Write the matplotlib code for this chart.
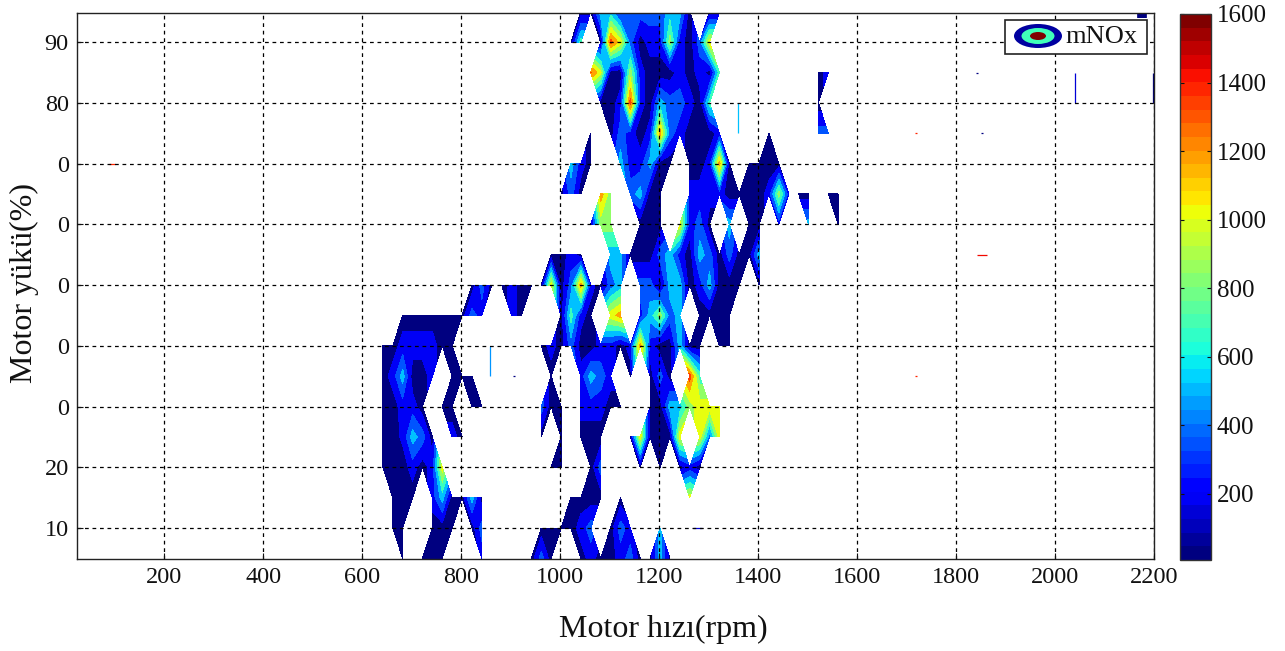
import numpy as np
import matplotlib
matplotlib.use("Agg")
import matplotlib.pyplot as plt
from matplotlib.cm import ScalarMappable
from matplotlib.colors import BoundaryNorm, Normalize
from matplotlib.patches import Ellipse, Rectangle

plt.rcParams['font.family'] = ['Liberation Serif', 'DejaVu Serif']

n = float('nan')
speed_rpm = [642 + 20 * j for j in range(47)]
load_pct = [5, 10, 15, 20, 25, 30, 35, 40, 45, 50, 55, 60, 65, 70, 75, 80, 85, 90, 95]
E10 = [n] * 10
E7 = [n] * 7

row_05 = [n,n,80,n,80,80,80,n,n,n, 240,n,n,n,n,80,400,80,n,n, 80,240,80,80,240,400,80,80,560,80] + E10 + E7
row_10 = [n,80,80,n,n,80,80,80,n,80, 400,n,n,n,n,n,80,80,80,80, 240,400,n,80,400,240,n,n,560,n] + E10 + E7
row_15 = [n,80,80,80,n,240,560,80,80,560, 80,n,n,n,n,n,n,n,n,80, 80,80,80,n,80,n,n,n,n,n, n,1040,n,n,n,n,n,n,n,n] + E7
row_20 = [80,80,80,240,80,240,1040,n,n,n, n,n,n,n,n,n,n,80,80,n, n,80,400,n,1040,n,80,n,80,n, 80,240,80,n,n,n,n,n,n,n] + E7
row_25 = [80,80,200,560,400,80,n,240,80,n, n,n,n,n,n,n,80,n,80,n, 80,80,80,n,n,80,1040,80,80,80, 1040,n,1040,400,1040,n,n,n,n,n] + E7
row_30 = [80,80,240,240,80,n,80,80,n,80, 80,n,n,n,n,n,400,80,80,n, 240,240,240,80,80,n,n,80,80,560, 560,880,1040,1040,1040,n,n,n,n,n] + E7
row_35 = [80,240,560,80,80,240,n,80,80,80, n,n,n,n,n,n,n,80,n,n, 240,560,400,240,n,80,n,80,400,80, n,1360,720,n,n,n,n,n,n,n] + E7
row_40 = [80,80,240,240,240,240,80,80,n,n, n,n,n,n,n,n,80,240,80,400, 80,80,240,240,80,240,1200,240,80,80, 560,80,80,n,80,80,n,n,n,n] + E7
row_45 = [n,n,80,80,80,80,80,80,80,400, 240,n,n,240,80,n,n,n,80,720, 240,80,n,1040,1200,n,240,560,880,400, 560,n,80,80,80,80,n,n,n,n] + E7
row_50 = [n,n,n,n,n,n,n,n,n,80, 400,80,80,240,80,80,80,1040,80,400, 1200,240,80,400,560,n,400,400,80,560, 560,80,240,560,80,80,80,n,80,n] + E7
row_55 = E10 + [n,n,n,n,n,n,n,80,80,240, 80,n,n,560,560,80,80,80,400,560, 240,80,560,400,80,400,80,80,560,n] + E7
row_60 = E10 + E10 + [n,80,880,880,n,n,80,80,80,n, 1040,240,400,80,n,560,n,80,80,n, 240,n,n,560,n,n,80]
row_65 = E10 + [n,n,n,n,n,n,n,n,80,400, 80,n,1200,880,n,400,560,80,80,n, n,240,240,240,240,80,80,80,80,240, 880,240,80,80,n,80,80]
row_70 = E10 + [n,n,n,n,n,n,n,n,n,560, 240,80,n,n,560,240,240,560,80,80, n,80,80,240,1200,80,n,80,80,80, 80,n,n,n,n,n,n]
row_75 = E10 + E10 + [n,80,n,80,400,240,80,240,1200,400, 240,80,80,80,240,n,n,n,n,80, n,n,n,n,400,400,n]
row_80 = E10 + E10 + [n,n,80,80,240,1360,240,80,560,400, 400,240,80,720,n,n,n,n,n,n, n,n,n,n,80,n,n]
row_85 = E10 + E10 + [n,1300,1000,80,80,880,240,80,80,80, 240,80,240,80,720,n,n,n,n,n, n,n,n,n,80,240,n]
row_90 = E10 + [n,n,n,n,n,n,n,n,n,80, 720,n,80,1360,1040,400,80,240,240,880, 240,80,400,1040,n,n,n,n,n,n] + E7
row_95 = E10 + E10 + [80,80,560,560,240,400,400,400,400,560, 560,80,n,80,80,n,n,n,n,n] + E7

nox_rows = [row_05, row_10, row_15, row_20, row_25, row_30, row_35, row_40, row_45, row_50,
            row_55, row_60, row_65, row_70, row_75, row_80, row_85, row_90, row_95]

# thin isolated traces: speed from, speed to, load from, load to, level
trace_x0 = [88, 858, 1360, 2040, 2198, 1843, 1718, 1718, 1850, 1840, 1268, 905]
trace_x1 = [100, 858, 1360, 2040, 2198, 1862, 1722, 1722, 1854, 1844, 1286, 909]
trace_y0 = [70, 35, 75, 80, 80, 55, 75, 35, 75, 85, 10, 35]
trace_y1 = [70, 40, 80, 85, 85, 55, 75, 35, 75, 85, 10, 35]
trace_v = [1400, 500, 560, 200, 80, 1450, 1400, 1400, 80, 80, 200, 80]

x_ticks = [200, 400, 600, 800, 1000, 1200, 1400, 1600, 1800, 2000, 2200]
y_ticks = [10, 20, 30, 40, 50, 60, 70, 80, 90]
y_tick_labels = ['10', '20', '0', '0', '0', '0', '0', '80', '90']
cb_ticks = [200, 400, 600, 800, 1000, 1200, 1400, 1600]

W, H = 1285, 651
fig = plt.figure(figsize=(W / 100, H / 100), dpi=100, facecolor='white')
ax = fig.add_axes([77 / W, 1 - 559 / H, (1154 - 77) / W, (559 - 13) / H])

Z = np.ma.masked_invalid(np.array(nox_rows, dtype=float))
levels = np.linspace(7, 1600, 11)
norm = Normalize(87, 1600)
ax.contourf(speed_rpm, load_pct, Z, levels=levels, cmap='jet', norm=norm, zorder=1)

jet = plt.get_cmap('jet')
for x0, x1, y0, y1, v in zip(trace_x0, trace_x1, trace_y0, trace_y1, trace_v):
    ax.plot([x0, x1], [y0, y1], color=jet(norm(v)), lw=0.9, solid_capstyle='butt', zorder=1.5)
ax.plot([2176, 2176], [94, 96], color=jet(0.0), lw=7, solid_capstyle='butt', zorder=1.5)

ax.set_xlim(24, 2200)
ax.set_ylim(4.9, 94.8)
ax.set_xticks(x_ticks)
ax.set_yticks(y_ticks)
ax.set_yticklabels(y_tick_labels)
ax.grid(True, color='black', linestyle=(0, (3, 3)), linewidth=0.9, zorder=2)
ax.set_axisbelow(False)
ax.tick_params(direction='in', length=4, width=0.8, labelsize=17.5, pad=6, colors='#111111')
for s in ax.spines.values():
    s.set_linewidth(1.0)
    s.set_color('#222222')
fig.text(663 / W, 1 - 629 / H, 'Motor hızı(rpm)', fontsize=23, ha='center', va='center', color='#111111')
fig.text(24 / W, 1 - 283 / H, 'Motor yükü(%)', fontsize=23, rotation=90, ha='center', va='center', color='#111111')

# legend
ft = ax.transAxes
def ax_xy(px, py):
    return (px - 77) / (1154 - 77), (559 - py) / (559 - 13)
x0, y0 = ax_xy(1005, 54)
x1, y1 = ax_xy(1147, 20)
ax.add_patch(Rectangle((x0, y0), x1 - x0, y1 - y0, transform=ft, fc='white', ec='#222222', lw=1.2, zorder=5))
cx, cy = ax_xy(1038, 36)
for w, h, c in [(48, 24, '#0000a0'), (33, 16, '#40ffb9'), (16, 8, '#800000')]:
    ax.add_patch(Ellipse((cx, cy), w / (1154 - 77), h / (559 - 13), transform=ft, fc=c, ec='none', zorder=6))
tx, ty = ax_xy(1065, 37)
ax.text(tx, ty, 'mNOx', transform=ft, fontsize=19, va='center', ha='left', zorder=6, color='#111111')

# colorbar
cax = fig.add_axes([1180 / W, 1 - 560 / H, 31 / W, (560 - 14) / H])
bounds = np.linspace(7, 1600, 41)
sm = ScalarMappable(norm=BoundaryNorm(bounds, 256), cmap='jet')
cb = fig.colorbar(sm, cax=cax, ticks=cb_ticks, spacing='proportional', format='%d')
cb.minorticks_off()
cb.ax.tick_params(direction='in', length=3, width=0.8, left=True, right=True, labelsize=18, pad=4, colors='#111111')
cb.outline.set_edgecolor('#333333')
cb.outline.set_linewidth(1.0)

fig.savefig('out.png', dpi=100, facecolor='white')
